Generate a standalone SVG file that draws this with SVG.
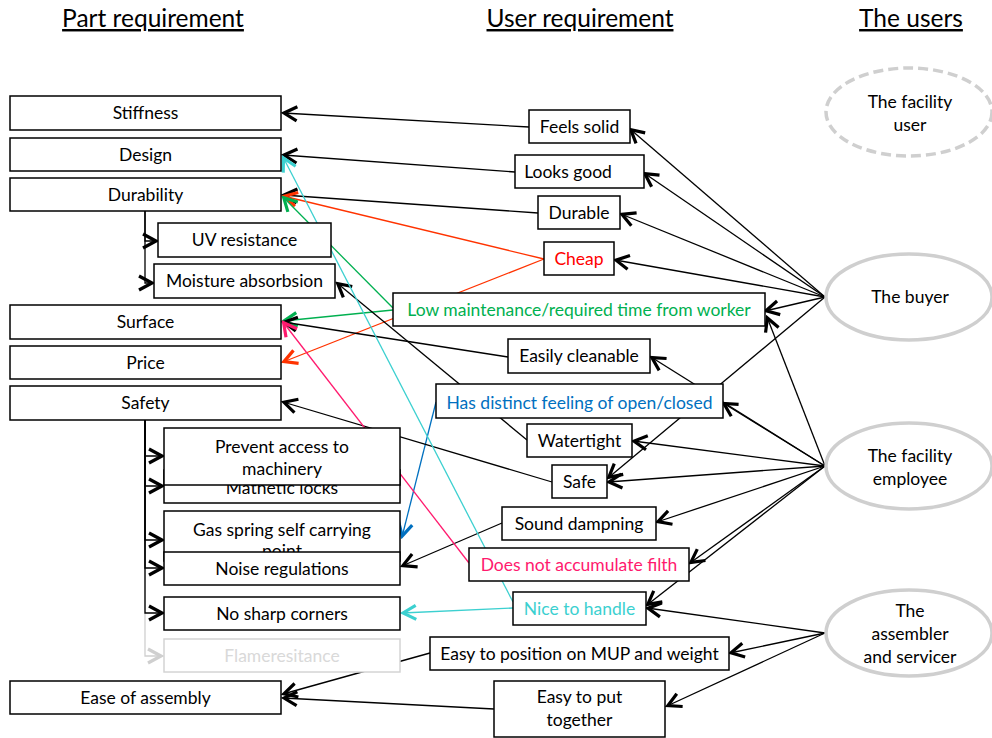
<svg xmlns="http://www.w3.org/2000/svg" width="992" height="738" viewBox="0 0 992 738">
  <style>
    .box { fill: #fff; stroke: #000; stroke-width: 1.5; }
    .ghost { fill: #fff; stroke: #d4d4d4; stroke-width: 1.5; }
    .t { font-family: Lato, "Liberation Sans", sans-serif; font-size: 17.5px; text-anchor: middle; fill: #000; }
    .h { font-family: Lato, "Liberation Sans", sans-serif; font-size: 24.5px; text-anchor: middle; fill: #000; text-decoration: underline; }
    .user { fill: #fff; stroke: #cfcfcf; stroke-width: 3.5; }
    .dash { stroke-dasharray: 10 5; }
    .ln { fill: none; stroke-width: 1.3; }
    .k { stroke: #000; marker-end: url(#ah-k); }
    .r { stroke: #ff3300; marker-end: url(#ah-r); }
    .g { stroke: #00b050; marker-end: url(#ah-g); }
    .p { stroke: #ff1a6e; marker-end: url(#ah-p); }
    .c { stroke: #3cd0d0; marker-end: url(#ah-c); }
    .b { stroke: #0070c0; marker-end: url(#ah-b); }
    .gr { stroke: #cfcfcf; marker-end: url(#ah-gr); }
  </style>
  <defs>
    <marker id="ah-k" viewBox="-16 -9 19 18" refX="1" refY="0" markerWidth="19" markerHeight="18" markerUnits="userSpaceOnUse" orient="auto"><path d="M-13,-7 L0,0 L-13,7" fill="none" stroke="#000" stroke-width="3.2"/></marker>
    <marker id="ah-r" viewBox="-16 -9 19 18" refX="1" refY="0" markerWidth="19" markerHeight="18" markerUnits="userSpaceOnUse" orient="auto"><path d="M-13,-7 L0,0 L-13,7" fill="none" stroke="#ff3300" stroke-width="3.2"/></marker>
    <marker id="ah-g" viewBox="-16 -9 19 18" refX="1" refY="0" markerWidth="19" markerHeight="18" markerUnits="userSpaceOnUse" orient="auto"><path d="M-13,-7 L0,0 L-13,7" fill="none" stroke="#00b050" stroke-width="3.2"/></marker>
    <marker id="ah-p" viewBox="-16 -9 19 18" refX="1" refY="0" markerWidth="19" markerHeight="18" markerUnits="userSpaceOnUse" orient="auto"><path d="M-13,-7 L0,0 L-13,7" fill="none" stroke="#ff1a6e" stroke-width="3.2"/></marker>
    <marker id="ah-c" viewBox="-16 -9 19 18" refX="1" refY="0" markerWidth="19" markerHeight="18" markerUnits="userSpaceOnUse" orient="auto"><path d="M-13,-7 L0,0 L-13,7" fill="none" stroke="#3cd0d0" stroke-width="3.2"/></marker>
    <marker id="ah-b" viewBox="-16 -9 19 18" refX="1" refY="0" markerWidth="19" markerHeight="18" markerUnits="userSpaceOnUse" orient="auto"><path d="M-13,-7 L0,0 L-13,7" fill="none" stroke="#0070c0" stroke-width="3.2"/></marker>
    <marker id="ah-gr" viewBox="-16 -9 19 18" refX="1" refY="0" markerWidth="19" markerHeight="18" markerUnits="userSpaceOnUse" orient="auto"><path d="M-13,-7 L0,0 L-13,7" fill="none" stroke="#cfcfcf" stroke-width="3.2"/></marker>
  </defs>

  <rect width="992" height="738" fill="#fff"/>

  <!-- column headings -->
  <text class="h" x="153" y="27">Part requirement</text>
  <text class="h" x="580" y="27">User requirement</text>
  <text class="h" x="911" y="27">The users</text>

  <!-- connectors -->
  <g id="connectors">
    <!-- sub-requirement branches -->
    <path class="ln gr" d="M145,420 V656 H162"/>
    <path class="ln k" d="M145,211 V241 H157"/>
    <path class="ln k" d="M145,211 V283 H153"/>
    <path class="ln k" d="M145,420 V456 H163"/>
    <path class="ln k" d="M145,420 V486 H163"/>
    <path class="ln k" d="M145,420 V540 H163"/>
    <path class="ln k" d="M145,420 V568 H163"/>
    <path class="ln k" d="M145,420 V613 H163"/>

    <!-- user requirement to part requirement -->
    <path class="ln k" d="M529,127 L283,113"/>
    <path class="ln k" d="M515,172 L283,155"/>
    <path class="ln k" d="M538,213 L283,195"/>
    <path class="ln r" d="M544,259 L283,196"/>
    <path class="ln r" d="M544,259 L283,362"/>
    <path class="ln g" d="M393,310 L283,321"/>
    <path class="ln g" d="M393,308 L283,197"/>
    <path class="ln k" d="M508,357 L283,322"/>
    <path class="ln k" d="M527,440 L337,283"/>
    <path class="ln b" d="M436,402 L402,537"/>
    <path class="ln k" d="M552,482 L283,402"/>
    <path class="ln k" d="M502,523 L402,566"/>
    <path class="ln p" d="M469,563 L283,322"/>
    <path class="ln c" d="M513,602 L283,157"/>
    <path class="ln c" d="M513,608 L402,613"/>
    <path class="ln k" d="M430,653 L283,694"/>
    <path class="ln k" d="M494,709 L283,698"/>

    <!-- users to user requirement: the buyer -->
    <path class="ln k" d="M825,297 L630,129"/>
    <path class="ln k" d="M825,297 L644,173"/>
    <path class="ln k" d="M825,297 L621,214"/>
    <path class="ln k" d="M825,297 L615,260"/>
    <path class="ln k" d="M825,297 L765,311"/>
    <path class="ln k" d="M825,297 L608,478"/>
    <!-- the facility employee -->
    <path class="ln k" d="M825,466 L767,317"/>
    <path class="ln k" d="M825,466 L651,357"/>
    <path class="ln k" d="M825,466 L723,403"/>
    <path class="ln k" d="M825,466 L633,441"/>
    <path class="ln k" d="M825,466 L608,482"/>
    <path class="ln k" d="M825,466 L657,522"/>
    <path class="ln k" d="M825,466 L690,563"/>
    <path class="ln k" d="M825,466 L647,605"/>
    <!-- the assembler and servicer -->
    <path class="ln k" d="M825,633 L647,608"/>
    <path class="ln k" d="M825,633 L730,653"/>
    <path class="ln k" d="M825,633 L667,706"/>
  </g>

  <!-- part requirements -->
  <g id="stiffness"><rect class="box" x="10" y="96" width="271" height="34"/><text class="t" x="145.5" y="119">Stiffness</text></g>
  <g id="design"><rect class="box" x="10" y="138" width="271" height="33"/><text class="t" x="145.5" y="161">Design</text></g>
  <g id="durability"><rect class="box" x="10" y="178" width="271" height="33"/><text class="t" x="145.5" y="201">Durability</text></g>
  <g id="uv-resistance"><rect class="box" x="158" y="223" width="173" height="34"/><text class="t" x="244.5" y="246">UV resistance</text></g>
  <g id="moisture-absorbsion"><rect class="box" x="154" y="264" width="181" height="34"/><text class="t" x="244.5" y="287">Moisture absorbsion</text></g>
  <g id="surface"><rect class="box" x="10" y="305" width="271" height="34"/><text class="t" x="145.5" y="328">Surface</text></g>
  <g id="price"><rect class="box" x="10" y="346" width="271" height="33"/><text class="t" x="145.5" y="369">Price</text></g>
  <g id="safety"><rect class="box" x="10" y="386" width="271" height="34"/><text class="t" x="145.5" y="409">Safety</text></g>
  <g id="mathetic-locks"><rect class="box" x="164" y="470" width="236" height="33"/><text class="t" x="282" y="494">Mathetic locks</text></g>
  <g id="prevent-access"><rect class="box" x="164" y="428" width="236" height="57"/><text class="t" x="282" y="453">Prevent access to</text><text class="t" x="282" y="475">machinery</text></g>
  <g id="gas-spring"><rect class="box" x="164" y="511" width="236" height="50"/><text class="t" x="282" y="536">Gas spring self carrying</text><text class="t" x="282" y="557">point</text></g>
  <g id="noise-regulations"><rect class="box" x="164" y="552" width="236" height="33"/><text class="t" x="282" y="575">Noise regulations</text></g>
  <g id="no-sharp-corners"><rect class="box" x="164" y="597" width="236" height="33"/><text class="t" x="282" y="620">No sharp corners</text></g>
  <g id="flameresitance"><rect class="ghost" x="164" y="639" width="236" height="33"/><text class="t" x="282" y="662" style="fill:#d9d9d9">Flameresitance</text></g>
  <g id="ease-of-assembly"><rect class="box" x="10" y="681" width="271" height="33"/><text class="t" x="145.5" y="704">Ease of assembly</text></g>

  <!-- user requirements -->
  <g id="feels-solid"><rect class="box" x="529" y="110" width="101" height="33"/><text class="t" x="579.5" y="133">Feels solid</text></g>
  <g id="looks-good"><rect class="box" x="515" y="155" width="129" height="33"/><text class="t" x="568" y="178">Looks good</text></g>
  <g id="durable"><rect class="box" x="538" y="196" width="82" height="33"/><text class="t" x="579" y="219">Durable</text></g>
  <g id="cheap"><rect class="box" x="544" y="242" width="70" height="33"/><text class="t" x="579" y="265" style="fill:#ff0000">Cheap</text></g>
  <g id="low-maintenance"><rect class="box" x="393" y="293" width="372" height="33"/><text class="t" x="579" y="316" style="fill:#00b050">Low maintenance/required time from worker</text></g>
  <g id="easily-cleanable"><rect class="box" x="508" y="339" width="142" height="34"/><text class="t" x="579" y="362">Easily cleanable</text></g>
  <g id="distinct-feeling"><rect class="box" x="436" y="384" width="287" height="34"/><text class="t" x="579.5" y="409" style="fill:#0070c0">Has distinct feeling of open/closed</text></g>
  <g id="watertight"><rect class="box" x="527" y="424" width="105" height="33"/><text class="t" x="579.5" y="447">Watertight</text></g>
  <g id="safe"><rect class="box" x="552" y="465" width="55" height="33"/><text class="t" x="579.5" y="488">Safe</text></g>
  <g id="sound-dampning"><rect class="box" x="502" y="507" width="154" height="33"/><text class="t" x="579" y="530">Sound dampning</text></g>
  <g id="no-filth"><rect class="box" x="469" y="548" width="220" height="33"/><text class="t" x="579" y="571" style="fill:#ff1a6e">Does not accumulate filth</text></g>
  <g id="nice-to-handle"><rect class="box" x="513" y="592" width="133" height="33"/><text class="t" x="579.5" y="615" style="fill:#3cd0d0">Nice to handle</text></g>
  <g id="easy-to-position"><rect class="box" x="430" y="637" width="299" height="33"/><text class="t" x="579.5" y="660">Easy to position on MUP and weight</text></g>
  <g id="easy-to-put-together"><rect class="box" x="494" y="681" width="171" height="56"/><text class="t" x="579.5" y="703">Easy to put</text><text class="t" x="579.5" y="726">together</text></g>

  <!-- users -->
  <g id="facility-user"><ellipse class="user dash" cx="909" cy="112" rx="83" ry="44"/><text class="t" x="910" y="108">The facility</text><text class="t" x="910" y="131">user</text></g>
  <g id="buyer"><ellipse class="user" cx="909" cy="297" rx="83" ry="43"/><text class="t" x="910" y="303">The buyer</text></g>
  <g id="facility-employee"><ellipse class="user" cx="909" cy="466" rx="83" ry="43"/><text class="t" x="910" y="462">The facility</text><text class="t" x="910" y="485">employee</text></g>
  <g id="assembler-servicer"><ellipse class="user" cx="909" cy="633" rx="83" ry="43"/><text class="t" x="910" y="617">The</text><text class="t" x="910" y="640">assembler</text><text class="t" x="910" y="663">and servicer</text></g>
</svg>
